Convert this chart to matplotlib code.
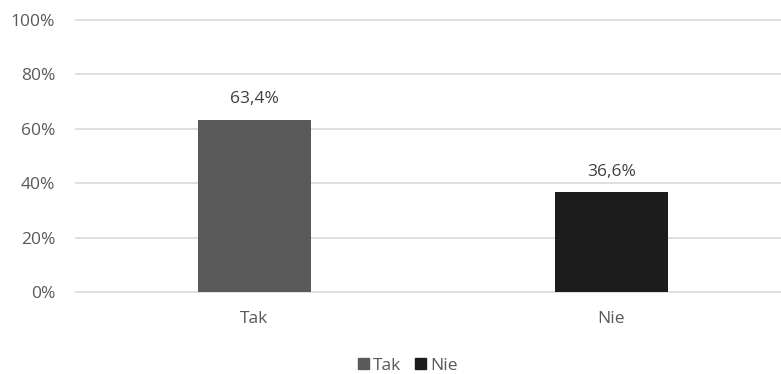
import matplotlib.pyplot as plt
from matplotlib.patches import Patch

categories = ["Tak", "Nie"]
values = [63.4, 36.6]
colors = ["#595959", "#1c1c1c"]
yticks = [0, 20, 40, 60, 80, 100]

plt.rcParams["font.family"] = ["Open Sans", "DejaVu Sans"]
text_color = "#595959"

fig = plt.figure(figsize=(7.81, 3.74), dpi=100)
ax = fig.add_axes([76 / 781, 82 / 374, 714 / 781, 272 / 374])

x = range(len(categories))
bars = ax.bar(x, values, width=0.317, color=colors, zorder=2)
for xi, v in zip(x, values):
    ax.text(xi, v + 4.5, f"{v:.1f}%".replace(".", ","), ha="center", va="bottom",
            fontsize=12.5, color="#404040")

ax.set_xlim(-0.5, 1.5)
ax.set_ylim(0, 100)
ax.set_yticks(yticks)
ax.set_yticklabels([f"{t}%" for t in yticks], fontsize=12.5, color=text_color)
ax.set_xticks(list(x))
ax.set_xticklabels(categories, fontsize=12.5, color=text_color)
ax.tick_params(axis="both", length=0)
ax.tick_params(axis="x", pad=14)
ax.tick_params(axis="y", pad=15)
ax.grid(axis="y", color="#d9d9d9", linewidth=1.2, zorder=0)
for line in ax.get_ygridlines():
    line.set_clip_on(False)
for s in ax.spines.values():
    s.set_visible(False)

handles = [Patch(color=c) for c in colors]
fig.legend(handles, categories, loc="center", bbox_to_anchor=(408 / 781, 1 - 366 / 374),
           ncol=2, frameon=False, fontsize=12.5, handlelength=0.6, handleheight=0.6,
           handletextpad=0.25, columnspacing=0.8, labelcolor=text_color)

fig.savefig("out.png", dpi=100)
